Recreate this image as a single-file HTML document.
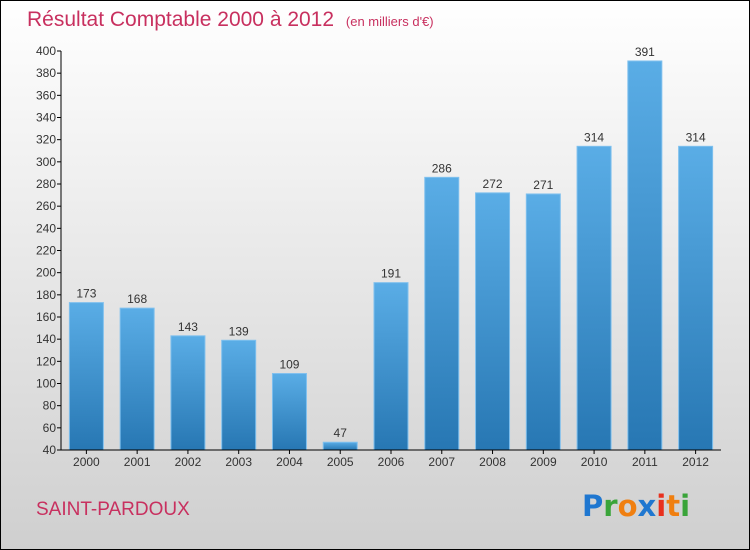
<!DOCTYPE html>
<html><head><meta charset="utf-8"><style>
body{margin:0;width:750px;height:550px;overflow:hidden}
svg{display:block;font-family:"Liberation Sans",sans-serif}
</style></head><body>
<svg id="c" width="750" height="550">
<defs>
<linearGradient id="bg" x1="0" y1="0" x2="0" y2="1"><stop offset="0" stop-color="#ffffff"/><stop offset="1" stop-color="#cfcfcf"/></linearGradient>
<linearGradient id="bar" x1="0" y1="0" x2="0" y2="1"><stop offset="0" stop-color="#5aade6"/><stop offset="1" stop-color="#2777b3"/></linearGradient>
</defs>
<rect x="0.5" y="0.5" width="749" height="549" fill="url(#bg)" stroke="#000"/>
<text x="27" y="26" font-size="21" fill="#c8305f">Résultat Comptable 2000 à 2012 <tspan font-size="13" dx="6">(en milliers d'€)</tspan></text>
<g id="plot"></g>
<text x="36" y="515" font-size="19" fill="#c8305f">SAINT-PARDOUX</text>
<g font-size="29" font-weight="bold" font-family="'DejaVu Sans',sans-serif">
<text x="582" y="516"><tspan fill="#1f77d0">P</tspan><tspan fill="#3aa43a">r</tspan><tspan fill="#f07f10">o</tspan><tspan fill="#1f77d0">x</tspan><tspan fill="#e8301d">i</tspan><tspan fill="#f07f10">t</tspan><tspan fill="#3aa43a">i</tspan></text>
</g>
</svg>
<script>
const years=["2000","2001","2002","2003","2004","2005","2006","2007","2008","2009","2010","2011","2012"];
const values=[173,168,143,139,109,47,191,286,272,271,314,391,314];
const ticks=[40,60,80,100,120,140,160,180,200,220,240,260,280,300,320,340,360,380,400];
const ns="http://www.w3.org/2000/svg";
const g=document.getElementById('plot');
const L=61,R=721,T=51,B=450,ymin=40,ymax=400;
const y=v=>B-(v-ymin)/(ymax-ymin)*(B-T);
const step=(R-L)/years.length;
const x=i=>L+step*(i+0.5);
function mk(t,a,txt){const e=document.createElementNS(ns,t);for(const k in a)e.setAttribute(k,a[k]);if(txt!=null)e.textContent=txt;g.appendChild(e);return e;}
values.forEach((v,i)=>{
 const r=mk('rect',{x:x(i)-17,y:y(v),width:34,height:B-y(v),fill:'url(#bar)',stroke:'#7fc0ee','stroke-width':1});
 
 
 const t=mk('text',{x:x(i),y:y(v)-5,'font-size':12,'text-anchor':'middle',fill:'#333'},v);
 
 
 const xl=mk('text',{x:x(i),y:B+16,'font-size':12,'text-anchor':'middle',fill:'#333'},years[i]);
 
 
 const tk=mk('line',{x1:x(i),x2:x(i),y1:B,y2:B+4,stroke:'#000'});
 
 
});
ticks.forEach(v=>{
 const l=mk('line',{x1:L-4,x2:L,y1:y(v),y2:y(v),stroke:'#000'});
 
 
 const t=mk('text',{x:L-5,y:y(v)+4,'font-size':12,'text-anchor':'end',fill:'#333'},v);
 
 
});
const ya=mk('line',{x1:L,x2:L,y1:T,y2:B,stroke:'#000'});


const xa=mk('line',{x1:L,x2:R,y1:B,y2:B,stroke:'#000'});


</script>
</body></html>
